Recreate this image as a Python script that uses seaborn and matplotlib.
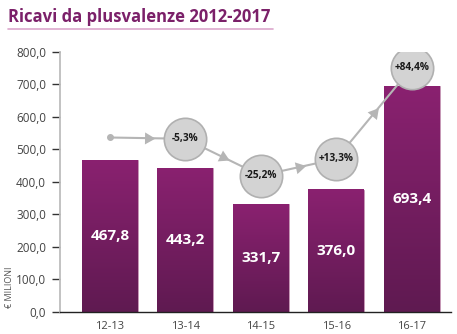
import numpy as np
import pandas as pd
import matplotlib
matplotlib.use("Agg")
import matplotlib.pyplot as plt
import seaborn as sns
from matplotlib.colors import LinearSegmentedColormap

# ---- data ----
seasons = ["12-13", "13-14", "14-15", "15-16", "16-17"]
revenues = [467.8, 443.2, 331.7, 376.0, 693.4]
value_labels = ["467,8", "443,2", "331,7", "376,0", "693,4"]
trend_levels = [536, 532, 419, 470, 751]
trend_labels = ["", "-5,3%", "-25,2%", "+13,3%", "+84,4%"]
y_ticks = [0, 100, 200, 300, 400, 500, 600, 700, 800]
y_tick_labels = ["0,0", "100,0", "200,0", "300,0", "400,0", "500,0", "600,0", "700,0", "800,0"]

sns.set_theme(style="white")
plt.rcParams["font.family"] = ["Open Sans", "DejaVu Sans"]

df = pd.DataFrame({"season": seasons, "value": revenues})

fig = plt.figure(figsize=(4.57, 3.34), dpi=100)
ax = fig.add_axes([60 / 457, 1 - 311.7 / 334, (451 - 60) / 457, (311.7 - 51.7) / 334])

sns.barplot(data=df, x="season", y="value", ax=ax, color="#7a1f63",
            width=0.74, edgecolor="#c89ab8", linewidth=0.6, saturation=1)

ax.set_xlim(-0.66, 4.52)
ax.set_ylim(0, 800)

# gradient fill on bars
cmap = LinearSegmentedColormap.from_list("g", ["#5f1a51", "#8a2170"])
grad = np.linspace(0, 1, 256).reshape(-1, 1)
for p in ax.patches:
    x0, y0 = p.get_x(), p.get_y()
    w, h = p.get_width(), p.get_height()
    im = ax.imshow(grad, cmap=cmap, origin="lower", aspect="auto",
                   extent=[x0, x0 + w, y0, y0 + h], zorder=p.get_zorder() + 0.1)
    im.set_clip_path(p)
ax.set_xlim(-0.66, 4.52)
ax.set_ylim(0, 800)

# value labels
for i, (v, lab) in enumerate(zip(revenues, value_labels)):
    ax.text(i, v / 2, lab, ha="center", va="center", color="white",
            fontsize=11, fontweight="bold", zorder=5)

# trend line
xs = np.arange(len(trend_levels))
ax.plot(xs, trend_levels, color="#b5b5b5", lw=1.5, zorder=6)
ax.plot([xs[0]], [trend_levels[0]], "o", color="#b5b5b5", ms=4, zorder=6)

# arrowheads at midpoints
fig.canvas.draw()
for i in range(len(xs) - 1):
    xm = (xs[i] + xs[i + 1]) / 2
    ym = (trend_levels[i] + trend_levels[i + 1]) / 2
    p0 = ax.transData.transform((xs[i], trend_levels[i]))
    p1 = ax.transData.transform((xs[i + 1], trend_levels[i + 1]))
    ang = np.degrees(np.arctan2(p1[1] - p0[1], p1[0] - p0[0]))
    ax.plot([xm], [ym], marker=(3, 0, ang - 90), color="#b5b5b5", ms=10,
            mec="none", zorder=6)

# circles
ax.scatter(xs[1:], trend_levels[1:], s=930, facecolor="#d3d3d3",
           edgecolor="#b0b0b0", linewidth=1.2, zorder=7)
for x, y, lab in zip(xs[1:], trend_levels[1:], trend_labels[1:]):
    ax.text(x, y, lab, ha="center", va="center", fontsize=7.3,
            fontweight="bold", color="#1a1a1a", zorder=8)

# axes styling
ax.set_yticks(y_ticks)
ax.set_yticklabels(y_tick_labels)
ax.set_xlabel("")
ax.set_ylabel("")
ax.tick_params(axis="y", which="both", left=True, length=6, width=1,
               color="#333333", labelsize=8.5, labelcolor="#444444", pad=4)
ax.tick_params(axis="x", bottom=False, labelsize=8, labelcolor="#444444", pad=1)
for s in ["top", "right"]:
    ax.spines[s].set_visible(False)
ax.spines["left"].set_color("#bdbdbd")
ax.spines["left"].set_linewidth(1.3)
ax.spines["bottom"].set_color("#222222")
ax.spines["bottom"].set_linewidth(1.0)

# title and underline
fig.text(8 / 457, 1 - 17 / 334, "Ricavi da plusvalenze 2012-2017", ha="left",
         va="center", fontsize=12, fontweight="bold", color="#7b2069")
fig.add_artist(plt.Line2D([8 / 457, 273 / 457], [1 - 29 / 334, 1 - 29 / 334],
                          color="#dba7cc", lw=1.2))

# y-axis unit label
fig.text(10 / 457, 1 - 287 / 334, "€ MILIONI", rotation=90, ha="center",
         va="center", fontsize=6.5, color="#555555")

fig.savefig("out.png", dpi=100)
